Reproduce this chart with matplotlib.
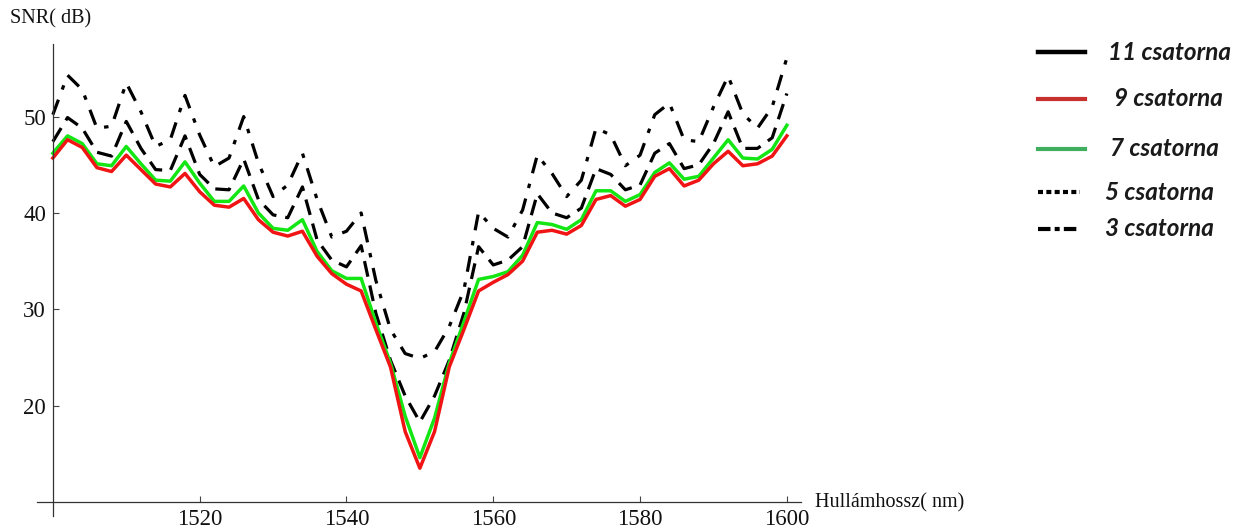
import matplotlib
matplotlib.use("Agg")
import matplotlib.pyplot as plt
from matplotlib.lines import Line2D
import numpy as np

# wavelength grid (nm), one point every 2 nm
wavelength = np.arange(1500, 1602, 2)

# SNR (dB)
snr_9 = [45.7, 47.6, 46.8, 44.7, 44.3, 46.0, 44.5, 43.0, 42.7, 44.1,
         42.2, 40.8, 40.6, 41.5, 39.3, 38.0, 37.6, 38.1, 35.5, 33.7,
         32.6, 31.9, 27.9, 24.0, 17.3, 13.5, 17.3, 24.0, 27.9, 31.9,
         32.8, 33.6, 35.0, 38.0, 38.2, 37.8, 38.7, 41.4, 41.8, 40.7,
         41.4, 43.8, 44.6, 42.8, 43.4, 45.1, 46.4, 44.9, 45.1, 45.9,
         48.0]
snr_7 = [46.2, 48.0, 47.2, 45.1, 44.9, 46.9, 45.1, 43.4, 43.3, 45.3,
         43.1, 41.2, 41.2, 42.8, 40.0, 38.4, 38.2, 39.3, 36.0, 34.0,
         33.2, 33.2, 28.6, 24.4, 18.9, 14.6, 18.7, 24.4, 28.7, 33.1,
         33.4, 33.9, 35.6, 39.0, 38.8, 38.3, 39.3, 42.3, 42.3, 41.2,
         41.9, 44.2, 45.2, 43.5, 43.8, 45.7, 47.6, 45.7, 45.6, 46.6,
         49.1]
snr_5 = [47.4, 49.9, 48.8, 46.3, 45.9, 49.5, 46.7, 44.5, 44.4, 48.0,
         44.0, 42.5, 42.4, 45.6, 41.4, 39.8, 39.5, 42.7, 37.2, 35.1,
         34.4, 36.6, 29.6, 24.7, 21.0, 18.3, 21.0, 24.7, 29.6, 36.5,
         34.6, 35.1, 36.5, 42.0, 40.0, 39.5, 40.5, 44.6, 44.0, 42.4,
         42.9, 46.2, 47.2, 44.6, 45.0, 47.2, 50.5, 46.7, 46.7, 47.8,
         52.4]
snr_3 = [50.2, 54.3, 52.8, 48.8, 49.0, 53.5, 50.5, 46.9, 47.6, 52.2,
         48.1, 44.8, 45.7, 50.0, 45.2, 41.7, 42.9, 46.2, 41.4, 37.5,
         38.1, 40.0, 33.0, 27.9, 25.4, 24.9, 25.6, 28.2, 32.0, 40.1,
         38.4, 37.5, 40.3, 46.0, 44.1, 41.7, 43.4, 48.8, 48.1, 44.9,
         46.0, 50.2, 51.4, 47.6, 47.4, 51.0, 54.2, 50.3, 48.8, 51.0,
         56.1]

xticks = [1520, 1540, 1560, 1580, 1600]
yticks = [20, 30, 40, 50]

legend_labels = ["11 csatorna", "9 csatorna", "7 csatorna", "5 csatorna", "3 csatorna"]

serif = "Liberation Serif"

fig = plt.figure(figsize=(12.36, 5.28), dpi=100)
ax = fig.add_axes([0.0303, 0.022, 0.6176, 0.894])

ax.plot(wavelength, snr_3, color="black", lw=2.3, dashes=(5.0, 3.4, 1.4, 3.4))
ax.plot(wavelength, snr_5, color="black", lw=2.3, dashes=(5.0, 2.8))
ax.plot(wavelength, snr_7, color="#14e614", lw=2.5)
ax.plot(wavelength, snr_9, color="#f01414", lw=2.5)

ax.set_xlim(1497.9, 1601.9)
ax.set_ylim(8.5, 57.5)

ax.spines["top"].set_visible(False)
ax.spines["right"].set_visible(False)
ax.spines["left"].set_position(("data", 1500))
ax.spines["bottom"].set_position(("data", 10))
for s in ["left", "bottom"]:
    ax.spines[s].set_color("#333333")
    ax.spines[s].set_linewidth(0.9)

ax.set_xticks(xticks)
ax.set_yticks(yticks)
ax.tick_params(direction="in", length=4.5, width=0.8, color="#444444",
               labelsize=16.5)
ax.tick_params(axis="x", pad=5)
ax.tick_params(axis="y", pad=5)
for lab in ax.get_xticklabels() + ax.get_yticklabels():
    lab.set_fontfamily(serif)
    lab.set_color("#111111")

fig.text(10 / 1236, 1 - 19 / 528, "SNR( dB)", family=serif, fontsize=14.5,
         va="center", ha="left", color="#111111")
fig.text(815 / 1236, 1 - 503 / 528, "Hullámhossz( nm)", family=serif,
         fontsize=14.5, va="center", ha="left", color="#111111")

# legend drawn as a picture-like key on the right
rows_y = [52, 99, 149, 192, 229]
text_x = [1108, 1114, 1110, 1105, 1105]
styles = [
    dict(color="black", lw=3.2),
    dict(color="#c8302e", lw=3.0),
    dict(color="#3fae5e", lw=3.0),
    dict(color="black", lw=3.0, dashes=(1.2, 0.8)),
    dict(color="black", lw=3.0, dashes=(3.0, 1.0, 1.2, 1.0)),
]
for lab, yy, tx, st in zip(legend_labels, rows_y, text_x, styles):
    fy = 1 - yy / 528
    x_end = 1085 if st.get("dashes") is None else 1080
    fig.add_artist(Line2D([1038 / 1236, x_end / 1236], [fy, fy],
                          transform=fig.transFigure, **st))
    fig.text(tx / 1236, fy, lab, family="Lato", style="italic",
             weight="bold", fontsize=17.5, va="center", ha="left",
             color="#1a1a1a")

fig.savefig("out.png", dpi=100)
